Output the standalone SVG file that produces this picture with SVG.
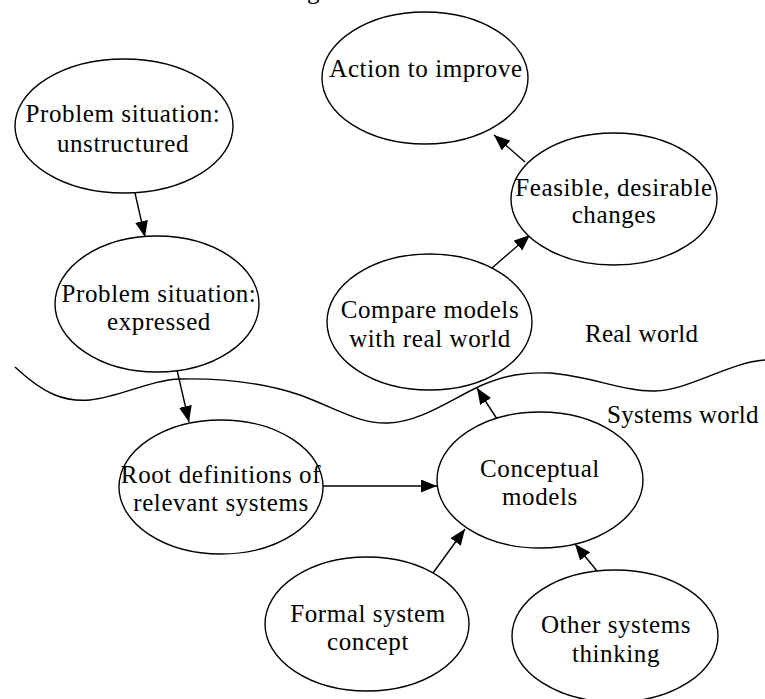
<svg xmlns="http://www.w3.org/2000/svg" width="765" height="699" viewBox="0 0 765 699">
  <defs>
    <marker id="arrow" markerUnits="userSpaceOnUse" markerWidth="17" markerHeight="14" refX="16" refY="6.5" orient="auto">
      <path d="M0,0 L16,6.5 L0,13 z" fill="#000"/>
    </marker>
    <style>
      .node ellipse { fill: #fff; stroke: #000; stroke-width: 1.4; }
      .label { font-family: "Liberation Serif", "Times New Roman", serif; font-size: 25px; letter-spacing: 0.6px; fill: #000; text-anchor: middle; }
      .free { font-family: "Liberation Serif", "Times New Roman", serif; font-size: 25px; letter-spacing: 0.3px; fill: #000; }
      .edge { stroke: #000; stroke-width: 1.4; fill: none; marker-end: url(#arrow); }
      .boundary { stroke: #000; stroke-width: 1.4; fill: none; }
    </style>
  </defs>
  <rect width="765" height="699" fill="#fff"/>

  <!-- trailing descender of the caption line above -->
  <text class="free" x="307" y="-1">g</text>

  <!-- boundary between the real world and the systems world -->
  <path class="boundary" d="M15,367 C45,395 65,402 90,400 C120,397 150,380 180,379 C230,378 270,385 300,395 C340,410 360,424 388,423 C420,422 450,400 480,386 C505,375 525,372 550,373 C590,376 625,392 655,391 C690,390 730,362 765,360"/>
  <text class="free" x="585" y="342">Real world</text>
  <text class="free" x="607" y="423">Systems world</text>

  <g id="connectors">
    <line class="edge" x1="135" y1="193" x2="145" y2="237"/>
    <line class="edge" x1="177" y1="370" x2="189" y2="422"/>
    <line class="edge" x1="323" y1="486" x2="437" y2="486"/>
    <line class="edge" x1="433" y1="573" x2="465" y2="529"/>
    <line class="edge" x1="597" y1="571" x2="575" y2="544"/>
    <line class="edge" x1="497" y1="419" x2="477" y2="388"/>
    <line class="edge" x1="492" y1="268" x2="530" y2="235"/>
    <line class="edge" x1="525" y1="162" x2="494" y2="135"/>
  </g>

  <g id="problem-unstructured" class="node">
    <ellipse cx="124" cy="126" rx="109" ry="67"/>
    <text class="label" x="123" y="122">Problem situation:</text>
    <text class="label" x="123" y="152">unstructured</text>
  </g>
  <g id="problem-expressed" class="node">
    <ellipse cx="157" cy="304" rx="102" ry="68"/>
    <text class="label" x="159" y="302">Problem situation:</text>
    <text class="label" x="159" y="330">expressed</text>
  </g>
  <g id="action" class="node">
    <ellipse cx="425" cy="78" rx="103" ry="66"/>
    <text class="label" x="426" y="77">Action to improve</text>
  </g>
  <g id="feasible" class="node">
    <ellipse cx="614" cy="199" rx="103" ry="66"/>
    <text class="label" x="614" y="196">Feasible, desirable</text>
    <text class="label" x="614" y="223">changes</text>
  </g>
  <g id="compare" class="node">
    <ellipse cx="429.5" cy="322" rx="102.5" ry="68"/>
    <text class="label" x="430" y="318">Compare models</text>
    <text class="label" x="430" y="347">with real world</text>
  </g>
  <g id="root-definitions" class="node">
    <ellipse cx="221" cy="487" rx="102" ry="67"/>
    <text class="label" x="221" y="483">Root definitions of</text>
    <text class="label" x="221" y="511">relevant systems</text>
  </g>
  <g id="conceptual" class="node">
    <ellipse cx="540" cy="480" rx="103" ry="68"/>
    <text class="label" x="540" y="477">Conceptual</text>
    <text class="label" x="540" y="505">models</text>
  </g>
  <g id="formal-system" class="node">
    <ellipse cx="367" cy="624" rx="102" ry="67"/>
    <text class="label" x="368" y="622">Formal system</text>
    <text class="label" x="368" y="650">concept</text>
  </g>
  <g id="other-systems" class="node">
    <ellipse cx="615" cy="636" rx="103" ry="66"/>
    <text class="label" x="616" y="633">Other systems</text>
    <text class="label" x="616" y="662">thinking</text>
  </g>
</svg>
